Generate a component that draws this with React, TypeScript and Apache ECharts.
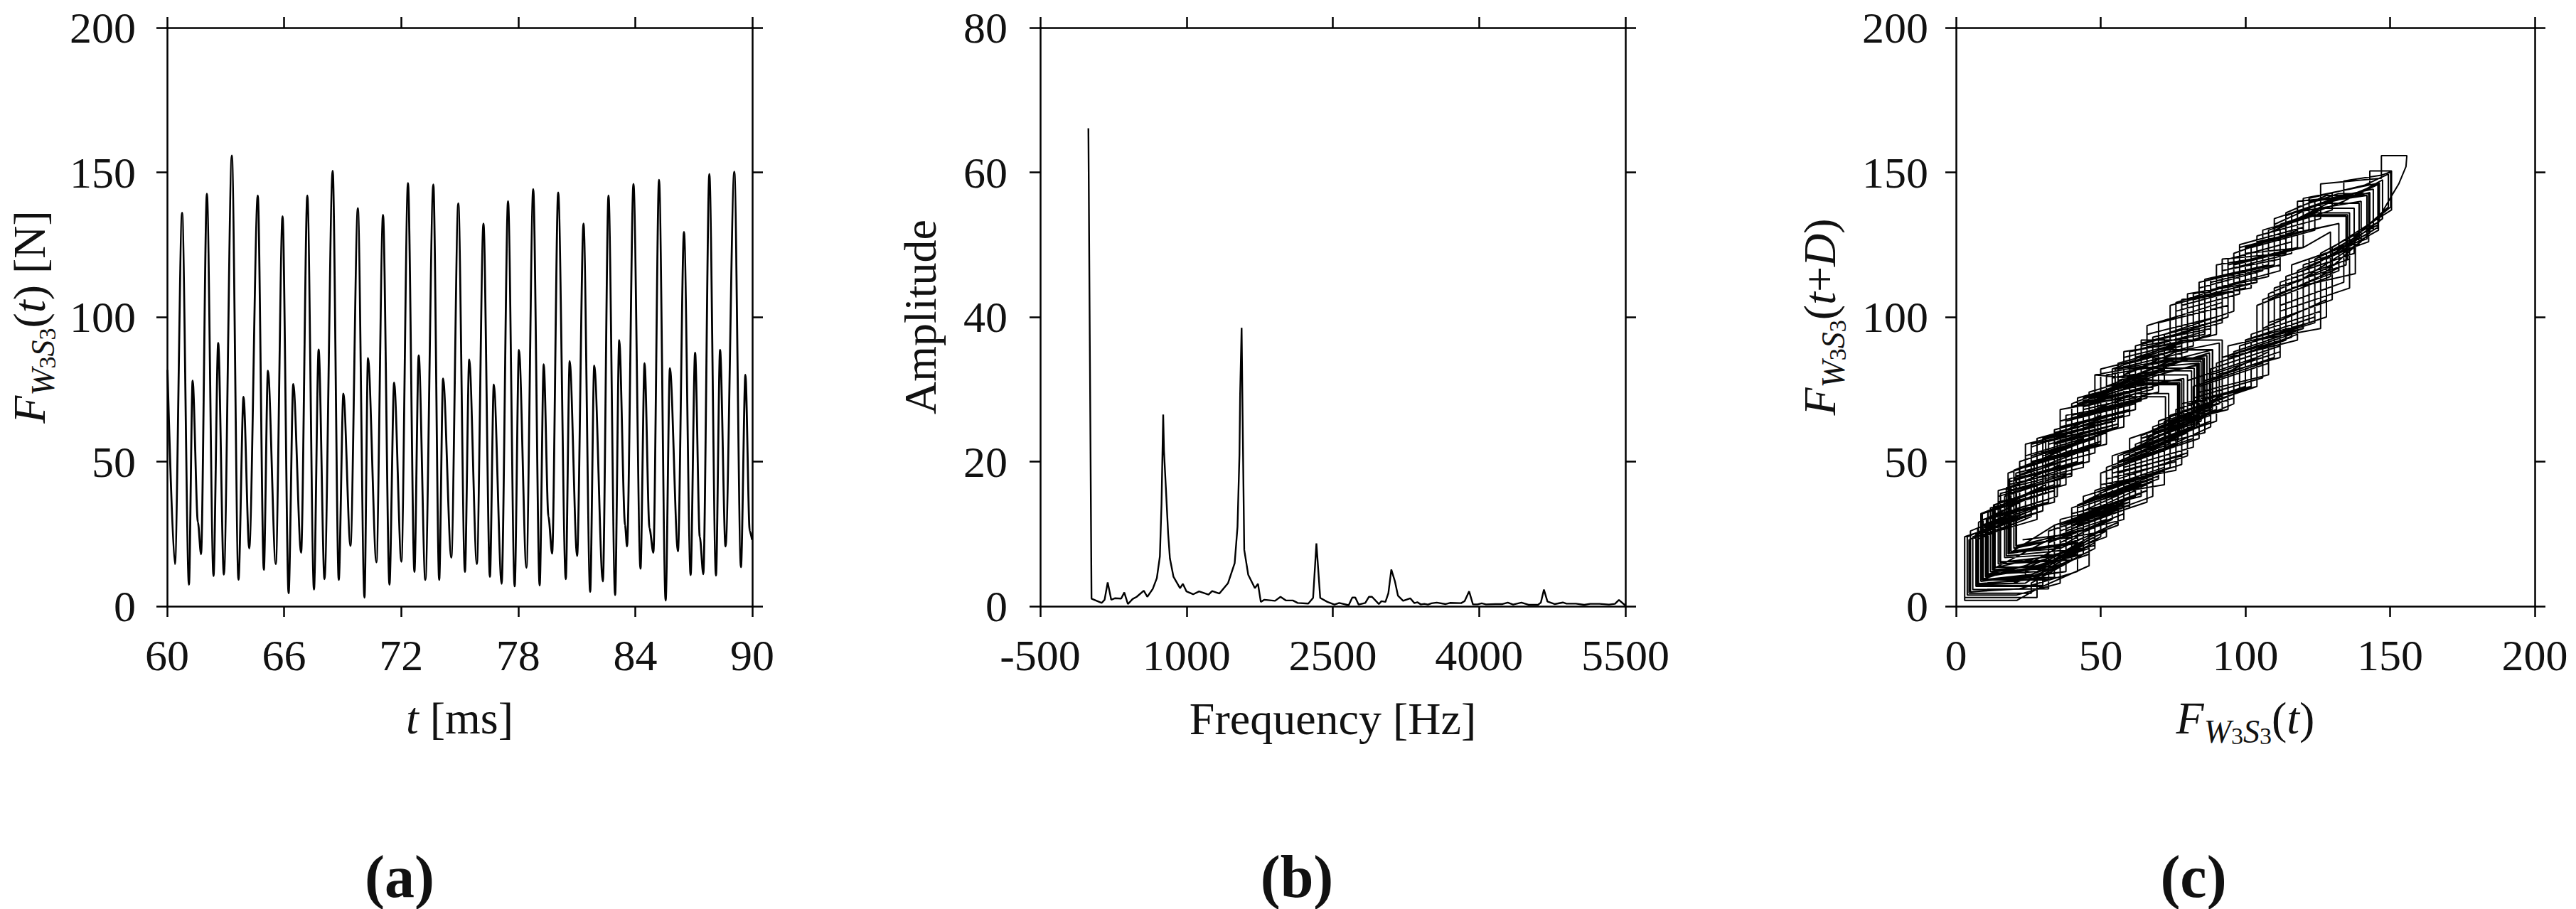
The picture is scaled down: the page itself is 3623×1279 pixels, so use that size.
import React, { useEffect, useRef } from "react";
import * as echarts from "echarts";

const SERIF = '"Liberation Serif", "Times New Roman", serif';

const timeMs = [60.02,60.40,60.77,61.12,61.31,61.58,61.74,62.04,62.38,62.62,62.91,63.32,63.66,63.92,64.21,64.65,64.96,65.17,65.57,65.92,66.23,66.47,66.87,67.19,67.53,67.77,68.07,68.49,68.80,69.04,69.40,69.78,70.12,70.30,70.73,71.07,71.40,71.64,72.01,72.35,72.68,72.90,73.24,73.65,73.95,74.15,74.57,74.93,75.27,75.49,75.88,76.22,76.55,76.75,77.15,77.48,77.82,78.04,78.42,78.77,79.10,79.31,79.55,79.74,80.05,80.44,80.64,81.02,81.35,81.69,81.90,82.34,82.63,82.97,83.18,83.48,83.58,83.91,84.27,84.48,84.73,84.93,85.22,85.56,85.78,86.19,86.50,86.84,87.07,87.31,87.49,87.80,88.14,88.35,88.63,89.08,89.42,89.65,89.87,89.99];
const forceN = [81.7,14.6,136,7.5,78,29,18,142.6,10.5,91,11,155.8,9.2,72.4,20,142,12.6,81.4,14.6,134.8,4.5,76.8,18.5,142,5.8,88.7,9.4,150.5,9.1,73.5,20.9,137.6,3,85.8,15.2,135.3,7.5,77.3,15.4,146.3,11.9,86.7,9.1,145.8,9.1,78.7,16.8,139.3,11.9,85.3,14.6,132.3,10.2,76.6,7.8,140,6.9,88.6,13.3,144.2,7.2,83.6,31,18.2,143,9.4,84.7,17.4,132.3,5,83.2,8.6,142,3.9,92,28,20.7,146,13,84,27,18.5,147.4,2,82.3,19,129.4,10.8,87.6,24,11.1,149.4,10.6,88.6,20.7,150.2,13.5,80,26,23];

const freqHz = [-6,26,131,160,192,228,265,330,362,399,447,489,562,598,654,696,727,744,761,769,788,812,830,866,934,963,1000,1068,1129,1226,1263,1336,1426,1494,1523,1543,1550,1565,1575,1592,1633,1701,1733,1762,1799,1908,1964,2018,2091,2140,2249,2298,2332,2371,2444,2517,2566,2663,2700,2731,2765,2833,2870,2902,2972,2999,3040,3070,3100,3138,3168,3221,3294,3337,3367,3403,3439,3476,3512,3566,3658,3701,3816,3852,3898,3937,3985,4027,4070,4167,4240,4294,4349,4434,4507,4604,4633,4665,4701,4774,4859,4896,4993,5078,5138,5235,5332,5393,5434,5500];
const amplitude = [66.1,1.05,0.46,0.9,3.3,0.9,1.1,1.05,1.9,0.3,1.0,1.3,2.15,1.3,2.4,3.9,6.9,14.2,26.5,21.5,16.5,10,6.6,4.1,2.5,3.1,2.05,1.65,2.05,1.6,2.1,1.75,3.2,5.95,11,21,29.3,38.5,26.5,7.8,4.35,2.5,3.1,0.6,0.9,0.75,1.3,0.8,0.8,0.45,0.37,1.15,8.7,1.15,0.6,0.23,0.45,0.15,1.2,1.2,0.23,0.45,1.3,1.3,0.3,0.7,0.6,1.8,5.07,3.4,1.47,0.75,1.1,0.43,0.55,0.26,0.33,0.23,0.4,0.5,0.3,0.46,0.43,0.72,2.06,0.26,0.26,0.4,0.26,0.3,0.3,0.5,0.23,0.5,0.2,0.2,0.5,2.3,0.65,0.3,0.52,0.36,0.36,0.2,0.33,0.33,0.23,0.33,0.88,0.1];

const phaseRows: number[][][] = [
  [[81.7,64],[60,54],[60,36],[36,30],[36,16],[14.6,14.6]],
  [[14.6,36],[38,42],[38,62],[62,68],[62,86],[88,94],[88,112],[112,118],[112,132],[124,136],[136,136]],
  [[136,120],[112,112],[112,90],[88,82],[88,66],[64,58],[64,42],[40,34],[40,18],[24,8],[7.5,7.5]],
  [[7.5,24],[28,30],[28,50],[52,56],[52,74],[66,78],[78,78]],
  [[78,60],[54,52],[54,34],[34,28],[18,18]],
  [[18,42],[44,48],[44,68],[70,74],[70,92],[94,100],[94,118],[118,124],[118,138],[132,142.6],[142.6,142.6]],
  [[142.6,126],[120,118],[120,96],[96,88],[96,72],[72,64],[72,48],[48,40],[48,24],[30,14],[10.5,10.5]],
  [[10.5,30],[34,36],[34,56],[58,62],[58,80],[76,88],[91,91]],
  [[91,70],[68,62],[68,44],[44,36],[44,20],[28,12],[11,11]],
  [[11,33],[31,39],[31,58],[55,64],[55,82],[80,88],[80,106],[104,112],[104,128],[126,134],[126,146],[147,148],[147,155.8],[155.8,155.8]],
  [[155.5,152],[153,146],[150,141],[146,134],[146,130],[128,120],[128,100],[104,92],[104,76],[80,68],[80,52],[56,44],[56,28],[34,20],[34,10],[9.2,9.2]],
  [[9.2,27],[26,33],[26,52],[46,58],[46,70],[60,72.4],[72.4,72.4]],
  [[72.4,54],[50,46],[50,28],[30,22],[20,20]],
  [[20,44],[42,50],[42,70],[66,76],[66,94],[90,100],[90,118],[114,122],[114,136],[128,142],[142,142]],
  [[142,127],[116,118],[116,94],[92,86],[92,68],[68,60],[68,44],[46,36],[46,20],[28,14],[12.6,12.6]],
  [[12.6,33],[30,39],[30,58],[54,64],[54,79],[70,81.4],[81.4,81.4]],
  [[81.4,62],[60,54],[60,36],[38,28],[38,16],[14.6,14.6]],
  [[14.6,38],[36,44],[36,64],[58,70],[58,88],[84,92],[84,110],[106,116],[106,130],[122,134.8],[134.8,134.8]],
  [[134.8,118],[110,110],[110,86],[86,78],[86,60],[62,54],[62,38],[44,30],[44,18],[26,8],[26,4.5],[4.5,4.5]],
  [[4.5,23],[24,30],[24,48],[44,54],[44,72],[60,76.8],[76.8,76.8]],
  [[76.8,58],[56,50],[56,34],[36,28],[36,20],[18.5,18.5]],
  [[18.5,40],[40,46],[40,66],[64,72],[64,90],[86,94],[86,113],[110,118],[110,134],[128,140],[142,142]],
  [[142,127],[122,120],[122,98],[100,92],[100,76],[76,68],[76,50],[52,44],[52,26],[32,16],[32,6],[5.8,5.8]],
  [[5.8,24],[26,32],[26,50],[50,56],[50,74],[72,82],[72,88.7],[88.7,88.7]],
  [[88.7,70],[66,60],[66,42],[42,34],[42,18],[24,12],[24,9.4],[9.4,9.4]],
  [[9.4,30],[32,36],[32,56],[56,62],[56,82],[78,86],[78,104],[100,110],[100,124],[122,130],[122,141],[143,146],[143,150.5],[150.5,150.5]],
  [[150.5,137],[130,124],[130,106],[108,98],[108,80],[84,74],[84,58],[60,50],[60,34],[38,26],[38,12],[18,9.1],[9.1,9.1]],
  [[9.1,27],[30,33],[30,52],[48,58],[48,68],[62,73.5],[73.5,73.5]],
  [[73.5,56],[52,48],[52,30],[34,24],[20.9,20.9]],
  [[20.9,44],[46,50],[46,70],[68,76],[68,92],[92,98],[92,116],[112,120],[112,131],[126,137.6],[137.6,137.6]],
  [[137.6,122],[114,114],[114,92],[90,84],[90,68],[70,60],[70,44],[48,36],[48,20],[28,10],[28,3],[3,3]],
  [[3,24],[22,30],[22,48],[46,54],[46,72],[68,80],[68,85.8],[85.8,85.8]],
  [[85.8,66],[64,58],[64,38],[40,32],[40,18],[15.2,15.2]],
  [[15.2,34],[34,40],[34,60],[60,66],[60,84],[82,90],[82,108],[108,114],[108,129],[122,135.3],[135.3,135.3]],
  [[135.3,120],[108,108],[108,84],[84,76],[84,62],[60,52],[60,36],[36,28],[36,14],[20,8],[7.5,7.5]],
  [[7.5,27],[27,34],[27,50],[49,56],[49,72],[64,77.3],[77.3,77.3]],
  [[77.3,60],[58,52],[58,32],[38,24],[38,16],[15.4,15.4]],
  [[15.4,39],[40,45],[40,65],[64,71],[64,89],[86,95],[86,113],[108,118],[108,130],[130,137],[130,143],[146.3,146.3]],
  [[146.3,133],[126,122],[126,102],[102,94],[102,76],[78,70],[78,52],[54,46],[54,30],[32,22],[32,13],[11.9,11.9]],
  [[11.9,31],[35,38],[35,57],[56,63],[56,78],[74,84],[86.7,86.7]],
  [[86.7,69],[66,58],[66,40],[46,32],[46,18],[26,11],[9.1,9.1]],
  [[9.1,32],[28,38],[28,58],[50,64],[50,82],[74,88],[74,104],[96,110],[96,122],[118,130],[118,140],[138,142],[145.8,145.8]],
  [[145.8,131],[124,118],[124,98],[98,90],[98,74],[74,66],[74,48],[50,40],[50,26],[32,16],[32,9.1],[9.1,9.1]],
  [[9.1,28],[24,34],[24,52],[44,58],[44,71],[62,76],[78.7,78.7]],
  [[78.7,60],[56,52],[56,34],[36,26],[36,18],[16.8,16.8]],
  [[16.8,38],[38,45],[38,64],[62,70],[62,90],[84,96],[84,112],[110,118],[110,132],[126,139.3],[139.3,139.3]],
  [[139.3,125],[118,116],[118,92],[94,86],[94,68],[70,62],[70,46],[44,38],[44,22],[26,14],[11.9,11.9]],
  [[11.9,34],[34,40],[34,60],[58,66],[58,80],[72,85.3],[85.3,85.3]],
  [[85.3,65],[62,56],[62,40],[40,30],[40,16],[14.6,14.6]],
  [[14.6,40],[38,46],[38,66],[60,70],[60,88],[80,92],[80,108],[104,112],[104,126],[132.3,132.3]],
  [[132.3,116],[106,106],[106,84],[82,76],[82,58],[58,50],[58,36],[34,28],[34,14],[10.2,10.2]],
  [[10.2,26],[28,34],[28,50],[44,58],[44,70],[62,76.6],[76.6,76.6]],
  [[76.6,56],[54,48],[54,30],[36,22],[36,10],[7.8,7.8]],
  [[7.8,29],[24,37],[24,56],[48,62],[48,80],[70,78],[70,98],[94,104],[94,120],[116,126],[116,136],[140,140]],
  [[140,126],[118,112],[118,94],[96,86],[96,70],[72,60],[72,42],[48,38],[48,22],[30,12],[30,6.9],[6.9,6.9]],
  [[6.9,25],[30,33],[30,52],[52,60],[52,76],[72,84],[72,88.6],[88.6,88.6]],
  [[88.6,68],[68,61],[68,43],[48,36],[48,21],[13.3,13.3]],
  [[13.3,35],[34,42],[34,61],[56,67],[56,84],[78,90],[78,106],[102,110],[102,124],[124,130],[124,140],[144.2,144.2]],
  [[144.2,130],[120,116],[120,96],[94,90],[94,74],[76,64],[76,47],[50,42],[50,24],[30,14],[30,7.2],[7.2,7.2]],
  [[7.2,23],[26,31],[26,49],[50,57],[50,73],[70,80],[83.6,83.6]],
  [[83.6,63],[64,55],[64,39],[42,31],[42,22],[18.2,18.2]],
  [[18.2,43],[44,50],[44,69],[68,75],[68,93],[92,99],[92,116],[116,122],[116,133],[130,140],[143,143]],
  [[143,129],[124,120],[124,100],[100,92],[100,75],[78,66],[78,49],[52,41],[52,24],[30,16],[9.4,9.4]],
  [[9.4,30],[32,37],[32,57],[56,63],[56,77],[74,84.7],[84.7,84.7]],
  [[84.7,64],[62,56],[62,41],[44,33],[44,20],[17.4,17.4]],
  [[17.4,41],[42,49],[42,66],[66,72],[66,88],[90,94],[90,110],[112,116],[112,128],[132.3,132.3]],
  [[132.3,117],[108,106],[108,88],[88,78],[88,62],[66,52],[66,36],[42,28],[42,12],[22,6],[5,5]],
  [[5,26],[22,33],[22,50],[46,58],[46,74],[66,80],[83.2,83.2]],
  [[83.2,62],[60,50],[60,35],[38,26],[38,12],[8.6,8.6]],
  [[8.6,32],[26,39],[26,56],[52,62],[52,80],[76,84],[76,102],[98,108],[98,124],[122,130],[122,140],[142,142]],
  [[142,128],[126,114],[126,96],[104,92],[104,76],[80,70],[80,53],[56,46],[56,29],[36,20],[36,8],[21,3.9],[3.9,3.9]],
  [[3.9,24],[20,31],[20,47],[42,56],[42,72],[64,78],[64,92],[92,92]],
  [[92,73],[72,62],[72,47],[52,40],[52,26],[20.7,20.7]],
  [[20.7,46],[48,53],[48,71],[72,77],[72,94],[96,102],[96,118],[120,124],[120,137],[136,142],[146,146]],
  [[146,132],[128,122],[128,106],[106,96],[106,79],[82,72],[82,55],[58,48],[58,30],[34,24],[13,13]],
  [[13,35],[36,42],[36,62],[60,68],[60,82],[84,84]],
  [[84,66],[60,58],[60,44],[44,36],[44,22],[18.5,18.5]],
  [[18.5,44],[40,51],[40,69],[64,75],[64,91],[88,96],[88,113],[110,118],[110,131],[134,140],[147.4,147.4]],
  [[147.4,134],[134,124],[134,112],[112,104],[112,88],[88,80],[88,64],[68,56],[68,38],[46,30],[46,14],[28,6],[21,2],[3,2]],
  [[3,24],[18,29],[18,46],[40,54],[40,70],[60,78],[60,82.3],[82.3,82.3]],
  [[82.3,62],[58,53],[58,35],[40,28],[40,22],[19,19]],
  [[19,41],[36,49],[36,68],[58,72],[58,86],[82,92],[82,106],[100,110],[100,122],[120,124],[129.4,129.4]],
  [[129.4,114],[104,104],[104,86],[80,78],[80,60],[56,50],[56,34],[32,26],[32,14],[10.8,10.8]],
  [[10.8,28],[32,36],[32,53],[54,61],[54,76],[76,84],[87.6,87.6]],
  [[87.6,68],[64,59],[64,43],[42,35],[42,24],[24,14],[11.1,11.1]],
  [[11.1,33],[30,41],[30,58],[54,66],[54,82],[76,90],[76,105],[98,112],[98,125],[120,131],[120,141],[140,145],[149.4,149.4]],
  [[149.4,138],[136,126],[136,110],[112,102],[112,86],[90,80],[90,64],[66,56],[66,40],[44,32],[44,18],[24,13],[10.6,10.6]],
  [[10.6,30],[26,38],[26,55],[48,63],[48,80],[70,84],[88.6,88.6]],
  [[88.6,69],[70,62],[70,46],[50,38],[50,28],[20.7,20.7]],
  [[20.7,45],[42,53],[42,70],[66,79],[66,97],[92,105],[92,120],[114,122],[114,135],[134,142],[134,147],[147,149],[150.2,150.2]],
  [[150.2,138],[138,128],[138,115],[116,110],[116,93],[92,86],[92,72],[70,64],[70,45],[46,37],[46,21],[28,13.5],[13.5,13.5]],
  [[13.5,34],[31,42],[31,58],[50,66],[50,74],[64,80],[80,80]],
  [[80,61],[58,53],[58,37],[40,30],[40,25],[23,23]],
];
const phasePoints = phaseRows.flat();

const xTicksA = [60, 66, 72, 78, 84, 90];
const xTicksB = [-500, 1000, 2500, 4000, 5500];
const yTicksForce = [0, 50, 100, 150, 200];
const yTicksAmp = [0, 20, 40, 60, 80];

const plotRects = [
  { left: 235, width: 823 },
  { left: 1463, width: 823 },
  { left: 2751, width: 814 },
];
const PLOT_TOP = 39;
const PLOT_H = 814;
const FS = 62;
const TS = 64;

const richMath = {
  i: { fontFamily: SERIF, fontStyle: "italic", fontSize: TS, color: "#111", lineHeight: 84 },
  r: { fontFamily: SERIF, fontSize: TS, color: "#111", lineHeight: 84 },
  sw: { fontFamily: SERIF, fontStyle: "italic", fontSize: 46, color: "#111", verticalAlign: "bottom", lineHeight: 84 },
  s3: { fontFamily: SERIF, fontSize: 34, color: "#111", verticalAlign: "bottom", lineHeight: 84 },
};
const FORCE = "{i|F}{sw|W}{s3|3}{sw|S}{s3|3}";

function axisPair(i: number, min: number, max: number, ticks: number[], isX: boolean, name: string, nameGap: number, margin: number, useRich: boolean) {
  const line = { show: true, onZero: false, lineStyle: { color: "#000", width: 2.5 } };
  const tickStyle = { color: "#000", width: 2.5 };
  const main: any = {
    type: "value", gridIndex: i, min, max,
    position: isX ? "bottom" : "left",
    splitLine: { show: false }, axisLine: line,
    axisTick: { show: true, inside: false, length: 15, lineStyle: tickStyle, customValues: ticks },
    axisLabel: { show: true, margin, color: "#111", fontFamily: SERIF, fontSize: FS, customValues: ticks, hideOverlap: false, showMinLabel: true, showMaxLabel: true, formatter: (v: number) => String(v) },
    name, nameLocation: "middle", nameGap,
    nameTextStyle: useRich
      ? { fontFamily: SERIF, fontSize: TS, color: "#111", rich: richMath }
      : { fontFamily: SERIF, fontSize: TS, color: "#111" },
  };
  const mirror: any = {
    type: "value", gridIndex: i, min, max,
    position: isX ? "top" : "right",
    splitLine: { show: false }, axisLine: line,
    axisTick: { show: true, inside: false, length: 15, lineStyle: tickStyle, customValues: ticks },
    axisLabel: { show: false },
  };
  return [main, mirror];
}

const caption = (letter: string, left: number) => ({
  text: `{r|(}{b|${letter}}{r|)}`,
  left, top: 1186, textAlign: "center",
  textStyle: {
    rich: {
      r: { fontFamily: SERIF, fontSize: 84, color: "#111" },
      b: { fontFamily: SERIF, fontWeight: "bold", fontSize: 84, color: "#111" },
    },
  },
});

export default function App() {
  const ref = useRef<HTMLDivElement>(null);
  useEffect(() => {
    const chart = echarts.init(ref.current!, undefined, { renderer: "svg" });
    chart.setOption({
      animation: false,
      backgroundColor: "#fff",
      title: [caption("a", 557), caption("b", 1819), caption("c", 3080)],
      grid: plotRects.map((r) => ({ left: r.left, width: r.width, top: PLOT_TOP, height: PLOT_H, containLabel: false, outerBoundsMode: "none" })),
      xAxis: [
        ...axisPair(0, 60, 90, xTicksA, true, "{i|t}{r| [ms]}", 115, 38, true),
        ...axisPair(1, -500, 5500, xTicksB, true, "Frequency [Hz]", 126, 38, false),
        ...axisPair(2, 0, 200, yTicksForce, true, `${FORCE}{r|(}{i|t}{r|)}`, 115, 38, true),
      ],
      yAxis: [
        ...axisPair(0, 0, 200, yTicksForce, false, `${FORCE}{r|(}{i|t}{r|) [N]}`, 152, 44, true),
        ...axisPair(1, 0, 80, yTicksAmp, false, "Amplitude", 137, 46, false),
        ...axisPair(2, 0, 200, yTicksForce, false, `${FORCE}{r|(}{i|t}{r|+}{i|D}{r|)}`, 150, 39, true),
      ],
      series: [
        {
          type: "line", xAxisIndex: 0, yAxisIndex: 0, showSymbol: false, smooth: 0.3, smoothMonotone: "x",
          lineStyle: { color: "#000", width: 2.8 },
          data: timeMs.map((t, k) => [t, forceN[k]]),
        },
        {
          type: "line", xAxisIndex: 2, yAxisIndex: 2, showSymbol: false,
          lineStyle: { color: "#000", width: 2.4 },
          data: freqHz.map((f, k) => [f, amplitude[k]]),
        },
        {
          type: "line", xAxisIndex: 4, yAxisIndex: 4, showSymbol: false,
          lineStyle: { color: "#000", width: 2 },
          data: phasePoints,
        },
      ],
    });
    return () => chart.dispose();
  }, []);
  return <div ref={ref} style={{ position: "fixed", left: 0, top: 0, width: 3623, height: 1279, background: "#fff" }} />;
}
